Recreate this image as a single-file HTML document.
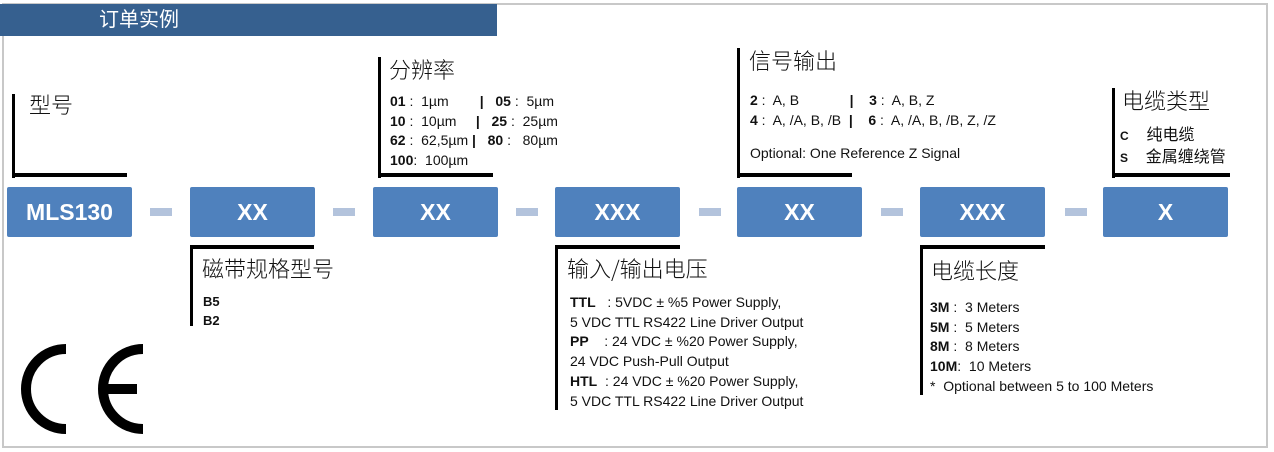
<!DOCTYPE html>
<html><head><meta charset="utf-8"><style>
body{margin:0;width:1274px;height:452px;background:#fff;position:relative;overflow:hidden;font-family:"Liberation Sans","Noto Sans CJK SC",sans-serif;}
.a{position:absolute}
.frame{left:2px;top:3px;width:1262px;height:441px;border:2px solid #c8c8c8;}
.hdr{left:0;top:4px;width:497px;height:32px;background:#36608f;color:#fff;font-size:20px;line-height:32px;}
.box{background:#4f81bd;color:#fff;font-weight:bold;font-size:23px;text-align:center;line-height:50px;height:50px;width:125px;top:187px;border-radius:2px;}
.dash{background:#b3c3dc;width:22px;height:8px;top:208px;}
.v{background:#000;width:3px;}
.h{background:#000;height:4px;}
.t{font-size:22px;color:#111;white-space:nowrap;font-family:"Noto Sans CJK SC","Liberation Sans",sans-serif;font-weight:300}
.s{font-size:14px;color:#111;white-space:nowrap;line-height:19.7px;}
b{font-weight:bold}
</style></head><body>
<div class="a frame"></div>
<div class="a hdr"><span style="margin-left:99px">订单实例</span></div>

<div class="a box" style="left:7px">MLS130</div>
<div class="a dash" style="left:150px"></div>
<div class="a box" style="left:190px">XX</div>
<div class="a dash" style="left:333px"></div>
<div class="a box" style="left:373px">XX</div>
<div class="a dash" style="left:516px"></div>
<div class="a box" style="left:555px">XXX</div>
<div class="a dash" style="left:699px"></div>
<div class="a box" style="left:737px">XX</div>
<div class="a dash" style="left:881px"></div>
<div class="a box" style="left:920px">XXX</div>
<div class="a dash" style="left:1065px"></div>
<div class="a box" style="left:1103px">X</div>

<div class="a v" style="left:12px;top:94px;height:84px"></div>
<div class="a h" style="left:12px;top:173px;width:115px"></div>
<div class="a t" style="left:29px;top:88px">型号</div>

<div class="a v" style="left:378px;top:57px;height:121px"></div>
<div class="a h" style="left:378px;top:173px;width:115px"></div>
<div class="a t" style="left:389px;top:53px">分辨率</div>
<div class="a s" style="left:390px;top:92px">
<div><b>01</b> :&nbsp; 1µm &nbsp;&nbsp;&nbsp;&nbsp;&nbsp;&nbsp;&nbsp;<b>|</b>&nbsp;&nbsp; <b>05</b> :&nbsp; 5µm</div>
<div><b>10</b> :&nbsp; 10µm &nbsp;&nbsp;&nbsp;&nbsp;<b>|</b>&nbsp;&nbsp; <b>25</b> :&nbsp; 25µm</div>
<div><b>62</b> :&nbsp; 62,5µm <b>|</b>&nbsp;&nbsp; <b>80</b> :&nbsp;&nbsp; 80µm</div>
<div><b>100</b>:&nbsp; 100µm</div>
</div>

<div class="a v" style="left:737px;top:48px;height:130px"></div>
<div class="a h" style="left:737px;top:173px;width:115px"></div>
<div class="a t" style="left:749px;top:44px">信号输出</div>
<div class="a s" style="left:750px;top:91px">
<div><b>2</b> :&nbsp; A, B &nbsp;&nbsp;&nbsp;&nbsp;&nbsp;&nbsp;&nbsp;&nbsp;&nbsp;&nbsp;&nbsp;&nbsp;<b>|</b>&nbsp;&nbsp;&nbsp; <b>3</b> :&nbsp; A, B, Z</div>
<div><b>4</b> :&nbsp; A, /A, B, /B&nbsp; <b>|</b>&nbsp;&nbsp;&nbsp; <b>6</b> :&nbsp; A, /A, B, /B, Z, /Z</div>
</div>
<div class="a s" style="left:750px;top:144px">Optional: One Reference Z Signal</div>

<div class="a v" style="left:1112px;top:88px;height:90px"></div>
<div class="a h" style="left:1112px;top:173px;width:118px"></div>
<div class="a t" style="left:1122px;top:84px">电缆类型</div>
<div class="a s" style="left:1120px;top:125px;font-size:16px;line-height:21px;font-family:'Liberation Sans','Noto Sans CJK SC',sans-serif">
<div><b style="font-size:12px">C</b>&nbsp;&nbsp;&nbsp; 纯电缆</div>
<div><b style="font-size:12px">S</b>&nbsp;&nbsp;&nbsp; 金属缠绕管</div>
</div>

<div class="a h" style="left:190px;top:245px;width:124px"></div>
<div class="a v" style="left:190px;top:245px;height:81px"></div>
<div class="a t" style="left:202px;top:252px">磁带规格型号</div>
<div class="a s" style="left:203px;top:292px;font-size:13px;line-height:19px"><div><b>B5</b></div><div><b>B2</b></div></div>

<div class="a h" style="left:555px;top:245px;width:125px"></div>
<div class="a v" style="left:555px;top:245px;height:165px"></div>
<div class="a t" style="left:567px;top:252px">输入/输出电压</div>
<div class="a s" style="left:570px;top:293px">
<div><b>TTL</b>&nbsp;&nbsp; : 5VDC ± %5 Power Supply,</div>
<div>5 VDC TTL RS422 Line Driver Output</div>
<div><b>PP</b>&nbsp;&nbsp;&nbsp; : 24 VDC ± %20 Power Supply,</div>
<div>24 VDC Push-Pull Output</div>
<div><b>HTL</b>&nbsp; : 24 VDC ± %20 Power Supply,</div>
<div>5 VDC TTL RS422 Line Driver Output</div>
</div>

<div class="a h" style="left:920px;top:245px;width:125px"></div>
<div class="a v" style="left:920px;top:245px;height:150px"></div>
<div class="a t" style="left:931px;top:254px">电缆长度</div>
<div class="a s" style="left:930px;top:298px">
<div><b>3M</b> :&nbsp; 3 Meters</div>
<div><b>5M</b> :&nbsp; 5 Meters</div>
<div><b>8M</b> :&nbsp; 8 Meters</div>
<div><b>10M</b>:&nbsp; 10 Meters</div>
<div>*&nbsp; Optional between 5 to 100 Meters</div>
</div>

<svg class="a" style="left:0;top:0" width="200" height="452">
<path d="M66,349 A40,40 0 0 0 66,429" fill="none" stroke="#000" stroke-width="10"/>
<path d="M143,349 A40,40 0 0 0 143,429" fill="none" stroke="#000" stroke-width="10"/>
<rect x="105" y="384" width="32" height="10" fill="#000"/>
</svg>
</body></html>
